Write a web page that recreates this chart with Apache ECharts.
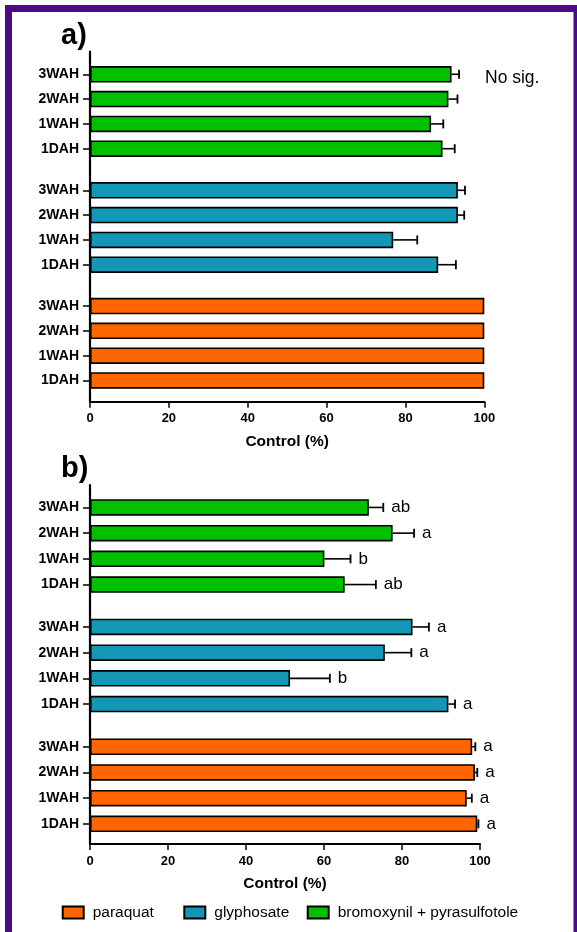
<!DOCTYPE html>
<html>
<head>
<meta charset="utf-8">
<script src="https://cdn.jsdelivr.net/npm/echarts@6/dist/echarts.min.js"></script>
<style>
html,body{margin:0;padding:0;background:#fff;}
#chart{width:577px;height:932px;}
</style>
</head>
<body>
<div id="chart"></div>
<script>
// ---- data (bottom-to-top order within each group) ----
const categories = ['1DAH', '1WAH', '2WAH', '3WAH'];
const herbicides = ['paraquat', 'glyphosate', 'bromoxynil + pyrasulfotole'];
const xTicks = [0, 20, 40, 60, 80, 100];

// panel a)
const aParaquat = [100, 100, 100, 100];
const aParaquatSE = [0, 0, 0, 0];
const aGlyphosate = [88.3, 76.9, 93.3, 93.3];
const aGlyphosateSE = [4.5, 6.1, 1.6, 1.8];
const aBromoxynil = [89.4, 86.5, 90.9, 91.7];
const aBromoxynilSE = [3.1, 3.1, 2.3, 1.9];
const aNote = 'No sig.';

// panel b)
const bParaquat = [99.3, 96.6, 98.7, 98.0];
const bParaquatSE = [0.3, 1.3, 0.6, 0.8];
const bGlyphosate = [91.9, 51.3, 75.6, 82.7];
const bGlyphosateSE = [1.7, 10.2, 6.8, 4.2];
const bBromoxynil = [65.3, 60.1, 77.6, 71.5];
const bBromoxynilSE = [8.0, 6.7, 5.5, 3.7];
const bParaquatLetters = ['a', 'a', 'a', 'a'];
const bGlyphosateLetters = ['a', 'b', 'a', 'a'];
const bBromoxynilLetters = ['ab', 'b', 'a', 'ab'];

// ---- styles ----
const colors = ['#FF6600', '#1497B5', '#00C000'];
const FONT = '"Liberation Sans", Arial, sans-serif';
const W = 577;

const panels = [
  { top: 51.7, bottom: 401.7, right: W - 484.3, step: 24.8,
    centers: [343.25, 227.5, 111.5], nameGap: 32, labelMargin: 10,
    vals: [aParaquat, aGlyphosate, aBromoxynil],
    ses: [aParaquatSE, aGlyphosateSE, aBromoxynilSE],
    letters: [null, null, null] },
  { top: 485, bottom: 844, right: W - 480, step: 25.7,
    centers: [785.3, 665.5, 546], nameGap: 32, labelMargin: 10.5,
    vals: [bParaquat, bGlyphosate, bBromoxynil],
    ses: [bParaquatSE, bGlyphosateSE, bBromoxynilSE],
    letters: [bParaquatLetters, bGlyphosateLetters, bBromoxynilLetters] }
];

const grid = [], xAxis = [], yAxis = [], series = [];
const LEFT = 90;

panels.forEach((p, pi) => {
  const gi = grid.length;
  grid.push({ left: LEFT, right: p.right, top: p.top, height: p.bottom - p.top });
  xAxis.push({
    type: 'value', gridIndex: gi, min: xTicks[0], max: xTicks[xTicks.length - 1],
    interval: xTicks[1] - xTicks[0],
    name: 'Control (%)', nameLocation: 'middle', nameGap: p.nameGap,
    nameTextStyle: { fontFamily: FONT, fontWeight: 'bold', fontSize: 15.5, color: '#000' },
    axisLine: { show: true, lineStyle: { color: '#000', width: 2 } },
    axisTick: { show: true, length: 6, lineStyle: { color: '#000', width: 1.5 } },
    axisLabel: { fontFamily: FONT, fontWeight: 'bold', fontSize: 13, color: '#000', margin: p.labelMargin },
    splitLine: { show: false }
  });
  yAxis.push({
    type: 'value', gridIndex: gi, min: 0, max: 1,
    axisLine: { show: true, onZero: false, lineStyle: { color: '#000', width: 2.2 } },
    axisTick: { show: false }, axisLabel: { show: false }, splitLine: { show: false }
  });

  for (let h = 0; h < 3; h++) {
    const sg = grid.length;
    const hgt = p.step * categories.length;
    grid.push({ left: LEFT, right: p.right, top: p.centers[h] - hgt / 2, height: hgt });
    xAxis.push({ type: 'value', gridIndex: sg, min: xTicks[0], max: xTicks[xTicks.length - 1], show: false });
    yAxis.push({
      type: 'category', gridIndex: sg, data: categories,
      axisLine: { show: false },
      axisTick: { show: true, alignWithLabel: true, length: 7, lineStyle: { color: '#000', width: 1.5 } },
      axisLabel: { fontFamily: FONT, fontWeight: 'bold', fontSize: 14, color: '#000', margin: 11 },
      splitLine: { show: false }
    });
    series.push({
      type: 'bar', name: herbicides[h], xAxisIndex: sg, yAxisIndex: sg,
      data: p.vals[h], barWidth: 16.5,
      itemStyle: { color: colors[h], borderColor: '#000', borderWidth: 1.6 },
      silent: true
    });
    const letters = p.letters[h];
    series.push({
      type: 'custom', name: 'err' + pi + h, xAxisIndex: sg, yAxisIndex: sg,
      data: p.vals[h].map((v, j) => [v, j, p.ses[h][j]]),
      z: 5, silent: true,
      renderItem: function (params, api) {
        const m = api.value(0), j = api.value(1), s = api.value(2);
        const p0 = api.coord([m, j]);
        const p1 = api.coord([m + s, j]);
        const children = [];
        if (s > 0) {
          children.push({ type: 'line', shape: { x1: p0[0], y1: p0[1], x2: p1[0], y2: p1[1] },
            style: { stroke: '#000', lineWidth: 1.6 } });
          children.push({ type: 'line', shape: { x1: p1[0], y1: p1[1] - 4.5, x2: p1[0], y2: p1[1] + 4.5 },
            style: { stroke: '#000', lineWidth: 1.8 } });
        }
        if (letters) {
          children.push({ type: 'text', x: p1[0] + 8, y: p1[1],
            style: { text: letters[params.dataIndex], fontFamily: FONT, fontSize: 17,
              fill: '#000', align: 'left', verticalAlign: 'middle' } });
        }
        return { type: 'group', children: children };
      }
    });
  }
});

const legendLefts = [61.7, 183.3, 306.7];
const legend = herbicides.map((name, i) => ({
  data: [name], left: legendLefts[i], top: 904.5,
  icon: 'rect', itemWidth: 21, itemHeight: 12, itemGap: 0,
  textStyle: { fontFamily: FONT, fontSize: 15.5, color: '#000', padding: [0, 0, 0, 4] },
  selectedMode: false, padding: 0
}));

const option = {
  animation: false,
  backgroundColor: '#fff',
  grid, xAxis, yAxis, series, legend,
  graphic: [
    { type: 'rect', shape: { x: 8.5, y: 8.5, width: 568.5, height: 1000 },
      style: { fill: 'none', stroke: '#4B0B85', lineWidth: 7 }, silent: true },
    { type: 'text', x: 61, y: 36, style: { text: 'a)', fontFamily: FONT, fontWeight: 'bold',
      fontSize: 29, fill: '#000', verticalAlign: 'middle' } },
    { type: 'text', x: 61, y: 469, style: { text: 'b)', fontFamily: FONT, fontWeight: 'bold',
      fontSize: 29, fill: '#000', verticalAlign: 'middle' } },
    { type: 'text', x: 485, y: 78, style: { text: aNote, fontFamily: FONT,
      fontSize: 17.5, fill: '#000', verticalAlign: 'middle' } }
  ]
};

const chart = echarts.init(document.getElementById('chart'), null, { renderer: 'canvas' });
chart.setOption(option);
</script>
</body>
</html>
